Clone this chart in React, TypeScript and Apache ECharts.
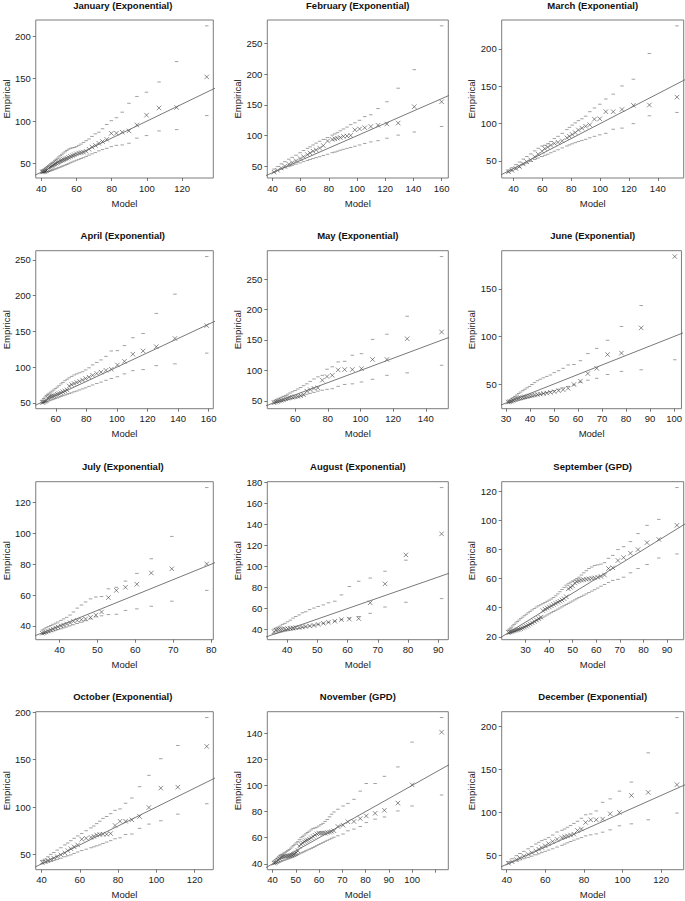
import { useEffect, useRef } from "react";
import * as echarts from "echarts";

// ---------- January ----------
const janModel = [40.6, 41.1, 41.7, 42.3, 42.9, 43.5, 44.2, 44.8, 45.5, 46.2, 46.9, 47.7, 48.4, 49.2, 50.0, 50.9, 51.7, 52.6, 53.6, 54.5, 55.5, 56.6, 57.7, 58.8, 60.0, 61.3, 62.6, 64.0, 65.5, 67.1, 68.8, 70.7, 72.7, 74.8, 77.2, 79.8, 82.7, 86.0, 89.8, 94.3, 99.8, 106.9, 116.9, 134.0];
const janEmpirical = [40.2, 40.5, 40.8, 41.3, 42.0, 43.0, 44.5, 45.5, 46.5, 47.5, 48.5, 49.5, 50.5, 51.5, 52.5, 53.5, 54.0, 55.0, 55.8, 56.5, 57.5, 58.5, 59.5, 60.5, 61.5, 62.5, 63.0, 63.5, 64.5, 67.0, 69.5, 71.5, 74.0, 76.0, 78.5, 85.6, 85.8, 87.0, 88.5, 95.5, 107.0, 115.5, 116.0, 152.0];
const janUpper = [41.5, 42.5, 43.5, 44.5, 45.5, 46.5, 47.5, 48.5, 50.0, 51.0, 52.0, 53.5, 55.0, 56.5, 58.0, 59.5, 61.0, 62.5, 64.0, 65.5, 67.0, 68.0, 68.5, 69.0, 70.0, 71.5, 73.0, 75.0, 77.0, 79.0, 82.0, 85.0, 87.0, 91.0, 96.0, 100.5, 104.0, 110.5, 121.0, 129.0, 134.0, 146.0, 170.0, 212.0];
const janLower = [40.0, 40.0, 40.0, 40.1, 40.3, 40.5, 40.8, 41.2, 41.7, 42.2, 42.8, 43.4, 44.0, 44.7, 45.3, 46.0, 46.8, 47.5, 48.3, 49.0, 50.0, 51.0, 52.0, 53.0, 54.0, 55.0, 56.0, 57.0, 58.5, 60.0, 61.5, 63.0, 65.0, 66.5, 68.0, 70.0, 71.5, 72.0, 74.0, 80.0, 83.0, 88.5, 90.0, 106.5];
const janXTicks = [40, 60, 80, 100, 120];
const janYTicks = [50, 100, 150, 200];

// ---------- February ----------
const febModel = [41.1, 43.6, 46.3, 48.8, 51.6, 54.0, 56.7, 59.6, 62.1, 64.8, 66.7, 68.8, 71.0, 73.5, 76.1, 79.1, 82.4, 84.2, 86.1, 88.2, 90.4, 92.9, 95.5, 98.5, 101.8, 105.5, 109.8, 114.9, 121.2, 129.2, 140.6, 160.0];
const febEmpirical = [41, 44, 47.5, 50.5, 54, 56.5, 59.5, 63, 66, 69.5, 72, 75, 77, 80, 84, 91.5, 94, 95, 96, 97, 99, 99.5, 100.5, 109.5, 111, 113, 115, 117, 119, 120.5, 147, 155];
const febUpper = [46, 50, 54.5, 58, 62, 65, 68.5, 72.5, 76, 79.5, 82, 85, 88, 91, 94, 97, 101, 103, 105, 108, 111, 114, 118, 121, 125, 131, 134, 144, 155, 177, 207, 278];
const febLower = [41, 43.5, 46, 48, 50, 52, 54, 56, 58, 60, 61.5, 63, 64.5, 66, 68, 70, 72.5, 73.5, 75, 76.5, 78, 79.5, 81, 83, 85, 87.5, 90, 92, 96, 101, 106, 115];
const febXTicks = [40, 60, 80, 100, 120, 140, 160];
const febYTicks = [50, 100, 150, 200, 250];

// ---------- March ----------
const marModel = [36.5, 38.9, 41.6, 44.1, 46.8, 49.2, 51.9, 54.7, 57.1, 59.8, 61.7, 63.7, 65.9, 68.3, 70.9, 73.8, 77.0, 78.8, 80.7, 82.8, 85.0, 87.4, 90.0, 92.9, 96.1, 99.8, 104.0, 109.1, 115.2, 123.1, 134.2, 153.3];
const marEmpirical = [35.5, 37.5, 40, 42.5, 46, 49, 51.5, 55.5, 59, 63, 66.5, 68.5, 71, 73.5, 75, 77, 81, 83, 85.5, 88, 91.5, 94, 96.5, 98.5, 106, 106.5, 116, 116, 119, 124.5, 125, 135.5];
const marUpper = [38, 41, 45, 48.5, 52.5, 56, 59.5, 63.5, 67, 70, 71, 73, 76, 80, 83, 87, 92, 95, 98, 101, 104, 106.5, 110, 116, 121, 126, 133, 139.5, 150.5, 159.5, 194, 231];
const marLower = [35, 36.8, 39, 41.5, 45, 47, 49.5, 52, 54, 56, 57.5, 59, 61, 63, 65, 67.5, 70, 71.5, 73, 74.5, 76, 77.5, 79, 81, 83, 85, 87, 92.5, 94, 100, 110.5, 115];
const marXTicks = [40, 60, 80, 100, 120, 140];
const marYTicks = [50, 100, 150, 200];

// ---------- April ----------
const aprModel = [51.2, 52.0, 52.9, 53.8, 54.7, 55.7, 56.7, 57.7, 58.7, 59.8, 61.0, 62.1, 63.4, 64.6, 66.0, 67.4, 68.8, 70.4, 72.0, 73.7, 75.5, 77.5, 79.5, 81.7, 84.1, 86.8, 89.6, 92.8, 96.3, 100.3, 104.9, 110.4, 117.1, 125.7, 137.9, 158.7];
const aprEmpirical = [50.5, 51, 52, 53, 57, 58.5, 59, 59.5, 60, 61, 62, 63, 64, 65.5, 66.5, 68, 73.5, 75.5, 77, 78.5, 80, 82, 84, 86, 88.5, 91, 93, 95.5, 97, 103, 108, 118, 122.5, 128.5, 140, 158];
const aprUpper = [53.5, 56, 58, 60, 62, 63.5, 65, 66.5, 68, 70, 72, 74, 76.5, 78.5, 81, 83, 85, 87, 89, 90.5, 92, 93.5, 96, 99, 103, 106.5, 110, 115, 122.5, 123, 130, 141, 147, 175, 202, 254.5];
const aprLower = [50, 50.5, 51, 51.6, 52.3, 53, 53.8, 54.5, 55.3, 56, 57, 58, 59, 60, 61, 62, 63, 64, 65.5, 66.5, 68, 69.5, 71, 73, 75, 77, 79, 81.5, 84, 86.5, 90.5, 95, 96.5, 102, 104.5, 119.5];
const aprXTicks = [60, 80, 100, 120, 140, 160];
const aprYTicks = [50, 100, 150, 200, 250];

// ---------- May ----------
const mayModel = [47.0, 48.1, 49.2, 50.3, 51.5, 52.8, 54.1, 55.4, 56.8, 58.3, 59.9, 61.6, 63.3, 65.1, 67.1, 69.2, 71.5, 73.9, 76.6, 79.5, 82.7, 86.3, 90.3, 95.0, 100.6, 107.4, 116.2, 128.6, 149.7];
const mayEmpirical = [47, 48, 49, 50, 51, 52, 53.5, 54.5, 55.5, 56, 57, 57.5, 58.5, 60, 66, 68.5, 70.5, 71.5, 84, 90, 92, 101, 101.5, 101.5, 103, 118, 118, 152, 163];
const mayUpper = [50, 51.5, 53, 54.5, 56, 57.5, 59, 61, 63, 65, 67, 69.5, 72, 75, 78, 82, 86, 89.5, 92, 102, 106, 114, 115, 125, 127.5, 151, 159.5, 189, 287];
const mayLower = [46.8, 47.4, 48, 48.6, 49.3, 50, 51, 52, 53, 54, 55, 56.5, 58, 59.5, 61, 62.5, 64, 66, 67.5, 69, 70, 74, 77, 78, 81, 85.5, 92, 96, 108.5];
const mayXTicks = [60, 80, 100, 120, 140];
const mayYTicks = [50, 100, 150, 200, 250];

// ---------- June ----------
const junModel = [31.0, 31.6, 32.3, 33.0, 33.7, 34.5, 35.3, 36.1, 37.0, 37.9, 38.8, 39.8, 40.8, 41.9, 43.1, 44.3, 45.6, 47.0, 48.5, 50.1, 51.9, 53.8, 55.9, 58.3, 61.0, 64.1, 67.8, 72.3, 78.1, 86.3, 100.3];
const junEmpirical = [31, 31.5, 32, 33, 34, 34.8, 35.3, 35.7, 36, 36.5, 37, 37.5, 38, 38.5, 39, 39.5, 40, 40.5, 41.2, 42, 43, 44, 45.5, 49.5, 53, 61, 66.5, 81, 82.5, 109, 184];
const junUpper = [32, 33, 34.3, 35.5, 37, 38.5, 40, 41.5, 43, 44.5, 46, 47.5, 49.5, 51.5, 53.5, 55, 56.5, 58, 59.5, 62, 64, 66.5, 70, 70.5, 74.5, 82, 87.5, 96, 110.5, 132.5, null];
const junLower = [30.2, 30.5, 30.9, 31.3, 31.8, 32.3, 32.8, 33.4, 34, 34.7, 35.3, 36, 36.6, 37.4, 38.2, 39, 40, 41, 42, 43, 44.5, 46, 47.5, 49, 52, 54, 56, 60, 63.3, 65, 75.5];
const junXTicks = [30, 40, 50, 60, 70, 80, 90, 100];
const junYTicks = [50, 100, 150];

// ---------- July ----------
const julModel = [35.5, 36.0, 36.5, 37.1, 37.7, 38.3, 39.0, 39.6, 40.4, 41.1, 41.9, 42.8, 43.7, 44.7, 45.8, 46.9, 48.2, 49.6, 51.1, 52.9, 55.0, 57.4, 60.4, 64.2, 69.6, 78.8];
const julEmpirical = [35.2, 35.5, 36, 36.6, 37.3, 38, 38.7, 39.3, 40, 40.5, 41.2, 42, 43, 43.5, 44, 44.5, 45.5, 47, 49, 58.3, 63, 65, 67, 74.3, 77, 80.2];
const julUpper = [37.3, 38, 38.8, 39.5, 40.2, 41, 41.7, 42.5, 43.5, 44.5, 45.5, 47, 49, 51.5, 53.5, 55.5, 57.5, 58.7, 59, 64, 65, 69, 74, 83.5, 98, 129.7];
const julLower = [34.8, 35.1, 35.4, 35.8, 36.2, 36.6, 37.1, 37.6, 38.1, 38.7, 39.3, 40, 40.7, 41.5, 42.3, 43.3, 44.5, 45.8, 46.5, 47.3, 47.5, 50, 51, 52.7, 56, 63];
const julXTicks = [40, 50, 60, 70, 80];
const julYTicks = [40, 60, 80, 100, 120];

// ---------- August ----------
const augModel = [35.7, 36.4, 37.1, 37.8, 38.5, 39.3, 40.2, 41.1, 42.0, 42.9, 44.0, 45.1, 46.2, 47.5, 48.9, 50.3, 52.0, 53.7, 55.8, 58.0, 60.6, 63.7, 67.5, 72.4, 79.3, 91.1];
const augEmpirical = [38, 39.5, 40, 40.2, 40.5, 40.7, 41, 41.3, 41.5, 42, 42, 42.5, 43, 43.5, 44, 45, 46, 47, 48, 49.5, 50, 50.5, 65.5, 83.5, 111, 131];
const augUpper = [40.5, 41.5, 42.5, 43.5, 45, 46, 47.5, 49, 51, 52.5, 54, 56, 57, 59, 60.5, 62, 63.5, 65.5, 67, 73, 81, 86, 89, 95.5, 106, 175];
const augLower = [36, 36.5, 37, 37.5, 38, 38.5, 39, 39.5, 40, 40.6, 41.2, 41.9, 42.6, 43.4, 44.2, 45, 46, 47, 48, 49.5, 51, 52.5, 55.5, 61.5, 66, 69.5];
const augXTicks = [40, 50, 60, 70, 80, 90];
const augYTicks = [40, 60, 80, 100, 120, 140, 160, 180];

// ---------- September ----------
const sepModel = [22.8, 23.4, 24.0, 24.6, 25.2, 25.9, 26.6, 27.3, 28.0, 28.8, 29.6, 30.4, 31.2, 32.0, 32.9, 33.8, 34.7, 35.6, 36.5, 37.4, 38.3, 39.2, 40.1, 41.0, 41.9, 42.8, 43.7, 44.6, 45.5, 46.4, 47.3, 48.2, 49.1, 50.0, 50.9, 51.8, 52.7, 53.7, 54.7, 55.8, 56.9, 58.1, 59.3, 60.6, 62.0, 63.5, 65.2, 67.0, 69.2, 71.6, 74.5, 77.7, 81.5, 86.5, 94.2];
const sepEmpirical = [23.0, 23.3, 23.6, 23.9, 24.2, 24.5, 24.8, 25.1, 25.5, 26.0, 26.6, 27.3, 28.0, 28.8, 29.6, 30.5, 31.5, 32.5, 33.5, 38.0, 39.0, 39.8, 40.5, 41.3, 42.2, 43.0, 43.8, 44.5, 45.3, 46.2, 47.5, 53.0, 54.0, 55.0, 57.0, 58.0, 58.5, 59.0, 59.3, 59.6, 59.9, 60.2, 60.5, 61.0, 61.5, 62.5, 67.0, 67.5, 72.5, 74.5, 77.5, 80.0, 84.8, 87.0, 96.7];
const sepUpper = [24.5, 25.5, 26.5, 27.5, 28.5, 29.5, 30.5, 31.5, 32.5, 33.5, 34.5, 35.5, 36.5, 37.5, 38.5, 39.5, 40.5, 41.3, 42.0, 42.8, 43.6, 44.4, 45.2, 46.0, 47.0, 48.2, 49.5, 51.0, 52.5, 54.0, 55.5, 56.5, 57.5, 58.3, 59.0, 60.0, 61.0, 62.5, 64.0, 65.5, 67.0, 68.0, 69.0, 69.5, 70.0, 71.0, 74.0, 76.0, 80.0, 82.0, 85.5, 91.0, 96.7, 100.8, 122.7];
const sepLower = [22.0, 22.4, 22.8, 23.2, 23.6, 24.1, 24.6, 25.1, 25.6, 26.2, 26.8, 27.4, 28.0, 28.7, 29.4, 30.2, 31.0, 31.8, 32.6, 33.4, 34.2, 35.0, 35.8, 36.6, 37.4, 38.2, 39.0, 39.8, 40.6, 41.4, 42.2, 43.0, 43.8, 44.6, 45.4, 46.2, 47.0, 47.8, 48.6, 49.5, 50.4, 51.4, 52.4, 53.5, 54.8, 56.0, 57.4, 58.8, 59.5, 61.0, 64.0, 67.0, 69.7, 74.2, 77.0];
const sepXTicks = [30, 40, 50, 60, 70, 80, 90];
const sepYTicks = [20, 40, 60, 80, 100, 120];

// ---------- October ----------
const octModel = [40.4, 41.9, 43.3, 44.8, 46.4, 48.2, 50.1, 52.2, 53.7, 55.3, 57.0, 58.9, 61.0, 63.3, 65.8, 67.3, 68.8, 70.4, 72.1, 74.0, 76.1, 78.4, 81.0, 83.9, 87.2, 91.2, 96.1, 102.3, 111.2, 126.3];
const octEmpirical = [41.5, 42.5, 43.5, 44.5, 46, 47.5, 49.5, 51.5, 54, 56, 58, 60, 66, 67, 68, 69, 70.5, 71, 71.3, 71.3, 72, 80.5, 85, 85, 86.5, 90, 99.5, 120, 121, 164];
const octUpper = [43.5, 45, 47.5, 50, 52, 54.5, 57, 60, 62, 64.5, 67, 69.5, 72, 75, 78, 80, 82.5, 85, 88, 90, 93, 96.5, 98, 104, 109.5, 121.5, 133.5, 151, 165, 194.5];
const octLower = [40, 41, 41.8, 42.6, 43.6, 44.8, 46, 47.5, 48.5, 49.5, 51, 52.5, 54, 55.5, 57, 58, 59, 60, 61.5, 63, 64.5, 66.5, 67.5, 71, 71.5, 77.5, 82, 85.5, 92.5, 103.5];
const octXTicks = [40, 60, 80, 100, 120];
const octYTicks = [50, 100, 150, 200];

// ---------- November ----------
const novModel = [40.6, 41.2, 41.8, 42.4, 43.0, 43.6, 44.2, 44.8, 45.4, 46.0, 46.6, 47.2, 47.8, 48.4, 49.0, 49.6, 50.2, 50.8, 51.5, 52.2, 52.9, 53.6, 54.3, 55.0, 55.8, 56.6, 57.4, 58.2, 59.0, 59.9, 60.8, 61.7, 62.6, 63.5, 64.5, 65.4, 66.4, 68.1, 70.3, 72.4, 75.0, 77.7, 80.3, 84.1, 88.1, 93.9, 100.0, 112.7];
const novEmpirical = [40.5, 41.0, 41.8, 42.8, 44.0, 45.0, 45.5, 45.7, 45.8, 46.0, 46.1, 46.3, 46.5, 46.8, 47.2, 47.8, 48.5, 50.0, 53.5, 55.0, 56.0, 57.0, 57.8, 58.3, 59.0, 60.0, 61.0, 62.0, 63.0, 63.5, 63.5, 63.5, 63.5, 64.0, 64.3, 64.8, 65.3, 68.6, 69.6, 72.2, 72.4, 74.7, 76.7, 78.7, 81.0, 86.5, 100.5, 140.8];
const novUpper = [42.0, 43.0, 44.0, 45.0, 46.0, 46.8, 47.5, 48.2, 48.8, 49.5, 50.2, 51.0, 52.0, 53.0, 54.0, 55.0, 56.0, 57.0, 58.5, 60.0, 61.0, 62.0, 63.0, 64.0, 65.0, 66.0, 67.0, 67.5, 68.0, 69.0, 70.0, 71.0, 72.5, 74.0, 76.0, 78.0, 79.7, 81.8, 84.3, 86.3, 89.4, 95.7, 101.5, 101.5, 107.0, 114.2, 133.2, 152.0];
const novLower = [40.0, 40.3, 40.6, 41.0, 41.4, 41.8, 42.2, 42.6, 43.0, 43.4, 43.8, 44.2, 44.6, 45.0, 45.5, 46.0, 46.5, 47.0, 47.6, 48.2, 48.8, 49.4, 50.0, 50.6, 51.2, 51.8, 52.5, 53.2, 54.0, 54.8, 55.6, 56.4, 57.2, 58.0, 58.8, 59.6, 60.4, 61.5, 62.8, 65.3, 66.6, 68.6, 71.6, 74.2, 75.9, 80.5, 84.3, 92.7];
const novXTicks = [40, 50, 60, 70, 80, 90, 100, 110];
const novXLabels = [40, 50, 60, 70, 80, 90, 100];
const novYTicks = [40, 60, 80, 100, 120, 140];

// ---------- December ----------
const decModel = [40.9, 42.8, 45.0, 46.8, 48.9, 51.1, 53.0, 55.1, 56.6, 58.2, 59.9, 61.7, 63.8, 66.1, 68.6, 70.0, 71.5, 73.1, 74.8, 76.7, 78.7, 80.9, 83.5, 86.4, 89.7, 93.6, 98.4, 104.6, 113.3, 128.2];
const decEmpirical = [41.3, 43, 45.5, 47.5, 49.5, 51.5, 53.5, 55.5, 57.5, 59.5, 61.5, 64, 66.5, 69, 71, 72, 73, 74, 75, 79.3, 81, 88.6, 91.7, 91.7, 92.5, 98.7, 100.3, 120, 123.5, 132.5];
const decUpper = [43, 46.5, 50, 52.5, 55, 58, 60.5, 63.5, 65.5, 67.5, 69, 71, 74, 77.5, 79.5, 81, 83, 85, 87.5, 90, 93.5, 97.5, 98.5, 102, 112, 116, 125, 135.5, 169.5, 210.5];
const decLower = [40.5, 42.3, 43.8, 45, 46.5, 48, 49.5, 51, 52.2, 53.5, 55, 56.5, 58, 60, 62, 63.5, 65, 66.5, 68, 69.5, 71, 73, 74.2, 75.3, 77.3, 80, 84.7, 87, 91.7, 99.5];
const decXTicks = [40, 60, 80, 100, 120];
const decYTicks = [50, 100, 150, 200];

type Panel = {
  title: string;
  model: number[];
  empirical: number[];
  upper: (number | null)[];
  lower: number[];
  xTicks: number[];
  xLabels?: number[];
  yTicks: number[];
};

const panels: Panel[] = [
  { title: "January (Exponential)", model: janModel, empirical: janEmpirical, upper: janUpper, lower: janLower, xTicks: janXTicks, yTicks: janYTicks },
  { title: "February (Exponential)", model: febModel, empirical: febEmpirical, upper: febUpper, lower: febLower, xTicks: febXTicks, yTicks: febYTicks },
  { title: "March (Exponential)", model: marModel, empirical: marEmpirical, upper: marUpper, lower: marLower, xTicks: marXTicks, yTicks: marYTicks },
  { title: "April (Exponential)", model: aprModel, empirical: aprEmpirical, upper: aprUpper, lower: aprLower, xTicks: aprXTicks, yTicks: aprYTicks },
  { title: "May (Exponential)", model: mayModel, empirical: mayEmpirical, upper: mayUpper, lower: mayLower, xTicks: mayXTicks, yTicks: mayYTicks },
  { title: "June (Exponential)", model: junModel, empirical: junEmpirical, upper: junUpper, lower: junLower, xTicks: junXTicks, yTicks: junYTicks },
  { title: "July (Exponential)", model: julModel, empirical: julEmpirical, upper: julUpper, lower: julLower, xTicks: julXTicks, yTicks: julYTicks },
  { title: "August (Exponential)", model: augModel, empirical: augEmpirical, upper: augUpper, lower: augLower, xTicks: augXTicks, yTicks: augYTicks },
  { title: "September (GPD)", model: sepModel, empirical: sepEmpirical, upper: sepUpper, lower: sepLower, xTicks: sepXTicks, yTicks: sepYTicks },
  { title: "October (Exponential)", model: octModel, empirical: octEmpirical, upper: octUpper, lower: octLower, xTicks: octXTicks, yTicks: octYTicks },
  { title: "November (GPD)", model: novModel, empirical: novEmpirical, upper: novUpper, lower: novLower, xTicks: novXTicks, xLabels: novXLabels, yTicks: novYTicks },
  { title: "December (Exponential)", model: decModel, empirical: decEmpirical, upper: decUpper, lower: decLower, xTicks: decXTicks, yTicks: decYTicks },
];

const COL_LEFT = [32.3, 267.3, 501.7];
const COL_WIDTH = [181, 181, 182];
const ROW_TOP = [20, 250.7, 481.7, 711.7];
const BOX_H = 158;
const FONT = '"Liberation Sans", Arial, Helvetica, sans-serif';
const TEXT = "#1a1a1a";
const X_SYMBOL = "path://M0,0L10,10M10,0L0,10";

export default function App() {
  const ref = useRef<HTMLDivElement>(null);
  useEffect(() => {
    if (!ref.current) return;
    const chart = echarts.init(ref.current, null, { renderer: "svg" });
    const grid: any[] = [];
    const xAxis: any[] = [];
    const yAxis: any[] = [];
    const series: any[] = [];
    const graphic: any[] = [];

    panels.forEach((p, i) => {
      const col = i % 3;
      const row = Math.floor(i / 3);
      const left = COL_LEFT[col];
      const top = ROW_TOP[row];
      const width = COL_WIDTH[col];
      grid.push({
        left, top, width, height: BOX_H,
        show: true, borderColor: "#7c7c7c", borderWidth: 1, backgroundColor: "transparent",
      });
      const xMin = Math.min(...p.model);
      const xMax = Math.max(...p.model);
      const ys = [...p.empirical, ...p.lower, ...(p.upper.filter((v) => v != null) as number[])];
      const yMin = Math.min(...ys);
      const yMax = Math.max(...ys);
      const xPad = (xMax - xMin) * 0.04;
      const yPad = (yMax - yMin) * 0.04;
      const x0 = xMin - xPad, x1 = xMax + xPad, y0 = yMin - yPad, y1 = yMax + yPad;

      xAxis.push({
        gridIndex: i, type: "value", min: x0, max: x1,
        name: "Model", nameLocation: "middle", nameGap: 20,
        nameTextStyle: { fontFamily: FONT, fontSize: 9.5, color: TEXT },
        axisLine: { show: false },
        axisTick: { show: true, customValues: p.xTicks, length: 3, lineStyle: { color: "#555", width: 0.8 } },
        axisLabel: { customValues: p.xLabels ?? p.xTicks, fontFamily: FONT, fontSize: 9.5, color: TEXT, margin: 5 },
        splitLine: { show: false },
      });
      yAxis.push({
        gridIndex: i, type: "value", min: y0, max: y1,
        name: "Empirical", nameLocation: "middle", nameGap: 23,
        nameTextStyle: { fontFamily: FONT, fontSize: 9.5, color: TEXT },
        axisLine: { show: false },
        axisTick: { show: true, customValues: p.yTicks, length: 3, lineStyle: { color: "#555", width: 0.8 } },
        axisLabel: { customValues: p.yTicks, fontFamily: FONT, fontSize: 9.5, color: TEXT, margin: 5 },
        splitLine: { show: false },
      });

      const lo = Math.min(x0, y0);
      const hi = Math.max(x1, y1);
      series.push({
        type: "line", xAxisIndex: i, yAxisIndex: i, silent: true, clip: true,
        data: [[lo, lo], [hi, hi]], showSymbol: false, symbol: "none",
        lineStyle: { color: "#6a6a6a", width: 0.9 },
      });
      series.push({
        type: "scatter", xAxisIndex: i, yAxisIndex: i, silent: true,
        data: p.model.map((x, k) => [x, p.upper[k]]).filter((d) => d[1] != null),
        symbol: "rect", symbolSize: [3.5, 1], itemStyle: { color: "#8a8a8a" },
      });
      series.push({
        type: "scatter", xAxisIndex: i, yAxisIndex: i, silent: true,
        data: p.model.map((x, k) => [x, p.lower[k]]),
        symbol: "rect", symbolSize: [3.5, 1], itemStyle: { color: "#8a8a8a" },
      });
      series.push({
        type: "scatter", xAxisIndex: i, yAxisIndex: i, silent: true,
        data: p.model.map((x, k) => [x, p.empirical[k]]),
        symbol: X_SYMBOL, symbolSize: 4.5,
        itemStyle: { color: "rgba(0,0,0,0)", borderColor: "#333", borderWidth: 0.7 },
      });

      graphic.push({
        type: "text", x: left + width / 2, y: top - 15, silent: true,
        style: { text: p.title, fill: "#111", fontFamily: FONT, fontSize: 9.5, fontWeight: "bold", align: "center", verticalAlign: "middle" },
      });
    });

    chart.setOption({
      animation: false,
      backgroundColor: "#ffffff",
      grid, xAxis, yAxis, series, graphic,
    });
    return () => chart.dispose();
  }, []);
  return <div ref={ref} style={{ position: "absolute", left: 0, top: 0, width: 685, height: 901 }} />;
}
